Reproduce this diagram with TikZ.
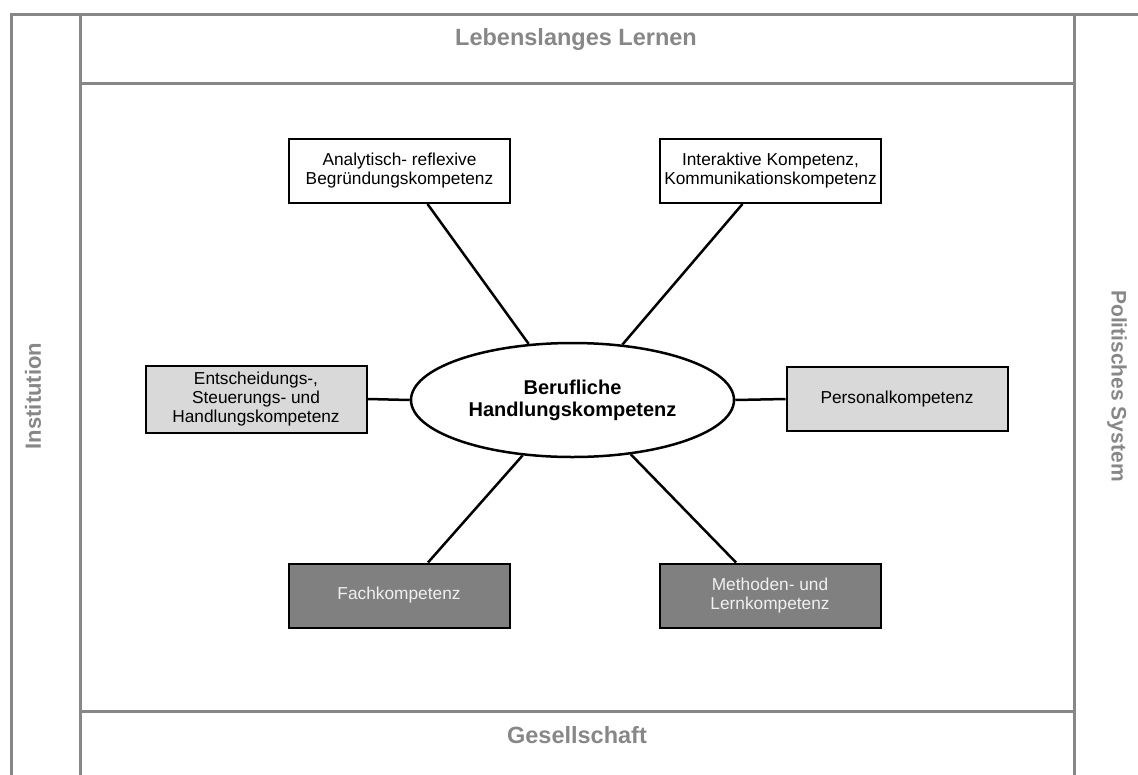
\documentclass[tikz,border=0pt]{standalone}
\usepackage{fontspec}
\setmainfont{Liberation Sans}
\usetikzlibrary{shapes.geometric}
\definecolor{framegray}{HTML}{878787}
\definecolor{lightbox}{HTML}{D9D9D9}
\definecolor{darkbox}{HTML}{808080}
\begin{document}
\begin{tikzpicture}[x=1pt,y=-1pt,
  every node/.style={font=\fontsize{17.3}{19}\selectfont, align=center},
  frame/.style={draw=framegray, line width=3pt},
  area/.style={text=framegray, font=\fontsize{23.5}{26}\selectfont\bfseries},
  komp/.style={draw, line width=2pt, minimum width=221pt, minimum height=64pt, inner sep=2pt},
  hell/.style={komp, fill=lightbox},
  dunkel/.style={komp, fill=darkbox, text=white!94!black},
  verb/.style={line width=2.5pt}]
    \useasboundingbox (0,0) rectangle (1138,774);
    \clip (0,0) rectangle (1138,774);

    \draw[frame] (1160,14) -- (11.5,14) -- (11.5,790);
    \draw[frame] (80,14) -- (80,790);
    \draw[frame] (1074,14) -- (1074,790);
    \draw[frame] (80,83) -- (1074,83);
    \draw[frame] (80,711) -- (1074,711);

    \node[area] (lernen) at (576,39) {Lebenslanges Lernen};
    \node[area] (gesell) at (577,735) {Gesellschaft};
    \node[area, font=\fontsize{22}{26}\selectfont\bfseries, rotate=90] (inst) at (33,396) {Institution};
    \node[area, font=\fontsize{21}{26}\selectfont\bfseries, rotate=-90] (polit) at (1117,386) {Politisches System};

    \node[ellipse, draw, line width=2.5pt, minimum width=323pt, minimum height=114pt, inner sep=0pt,
          font=\fontsize{20}{22}\selectfont\bfseries] (bhk) at (572.5,400) {Berufliche\\Handlungskompetenz};

    \node[komp] (analyt) at (399.5,171) {Analytisch- reflexive\\Begründungskompetenz};
    \node[komp] (interakt) at (770.5,171) {Interaktive Kompetenz,\\Kommunikationskompetenz};
    \node[hell, minimum height=67pt] (entsch) at (256,399) {Entscheidungs-,\\Steuerungs- und\\Handlungskompetenz};
    \node[hell] (personal) at (897,399) {Personalkompetenz};
    \node[dunkel] (fach) at (399,595.5) {Fachkompetenz};
    \node[dunkel] (methode) at (770,595.5) {Methoden- und\\Lernkompetenz};

    \draw[verb] ([xshift=28pt]analyt.south) -- (bhk.128);
    \draw[verb] ([xshift=-28pt]interakt.south) -- (bhk.48);
    \draw[verb] (entsch.east) -- (bhk.west);
    \draw[verb] (bhk.east) -- (personal.west);
    \draw[verb] (bhk.228) -- ([xshift=29pt]fach.north);
    \draw[verb] (bhk.-43) -- ([xshift=-34pt]methode.north);
\end{tikzpicture}
\end{document}
